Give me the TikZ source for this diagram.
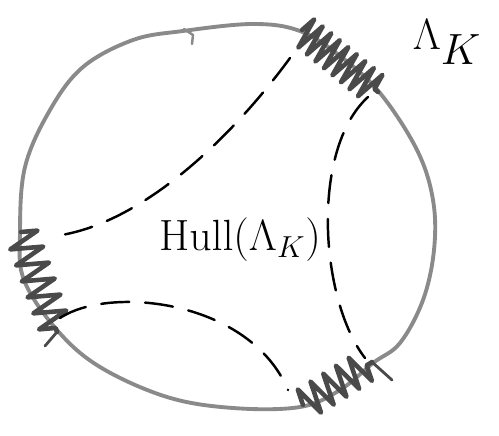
\documentclass[tikz,border=0pt]{standalone}
\usetikzlibrary{decorations.pathmorphing, calc}
\definecolor{cline}{HTML}{8A8A8A}
\definecolor{cdark}{HTML}{4A4A4A}
\tikzset{
  every picture/.style={line cap=round, line join=round},
  boundary/.style={draw=cline, line width=2.2pt},
  limitset/.style={draw=cdark, line width=2.6pt, decorate,
    decoration={zigzag, segment length=#1, amplitude=0.32cm}},
  limitset/.default=0.26cm,
  geodesic/.style={draw=black, line width=1.4pt, dash pattern=on 16pt off 9pt},
  label/.style={font=\fontsize{26}{30}\selectfont, inner sep=1pt},
}
\begin{document}
\begin{tikzpicture}[x=0.02cm, y=-0.02cm]
  \useasboundingbox (0,0) rectangle (499,435);
  % boundary circle, drawn by hand
  \draw[boundary] plot[smooth cycle, tension=0.6] coordinates {
    (133,40) (183,31) (253,24) (300,31) (340,56) (380,93) (417,150)
    (433,200) (434,250) (423,300) (400,343) (373,363) (340,390)
    (300,407) (233,408) (167,397) (100,367) (57,330) (24,280)
    (20,233) (25,167) (50,110) (83,67)};
  \draw[boundary, line width=1.4pt] (184,29) -- (193,35) -- (192,44);
  % ends of the three pieces of the limit set
  \coordinate (ta) at (302,30);
  \coordinate (tb) at (378,92);
  \coordinate (la) at (21,232);
  \coordinate (lb) at (57,332);
  \coordinate (ra) at (303,405);
  \coordinate (rb) at (372,362);
  \draw[limitset=0.22cm] (ta) -- (tb);
  \draw[limitset=0.34cm] (la) -- (lb);
  \draw[limitset=0.3cm] (ra) -- (rb);
  \draw[cdark, line width=1.6pt] (rb) -- (392,380);
  \draw[cdark, line width=1.6pt] (lb) -- (45,346);
  % geodesics bounding the hull
  \coordinate (g1a) at (290,58);
  \coordinate (g1b) at (55,236);
  \coordinate (g2a) at (368,97);
  \coordinate (g2b) at (365,358);
  \coordinate (g3a) at (60,318);
  \coordinate (g3b) at (288,390);
  \draw[geodesic] (g1a) .. controls (230,140) and (140,225) .. (g1b);
  \draw[geodesic] (g2a) .. controls (310,150) and (320,300) .. (g2b);
  \draw[geodesic] (g3a) .. controls (110,285) and (250,300) .. (g3b);
  % labels
  \node[label] (hull) at (240,240) {$\mathrm{Hull}(\Lambda_K)$};
  \node[label, font=\fontsize{38}{42}\selectfont] (lam) at (447,42) {$\Lambda_K$};
\end{tikzpicture}
\end{document}
